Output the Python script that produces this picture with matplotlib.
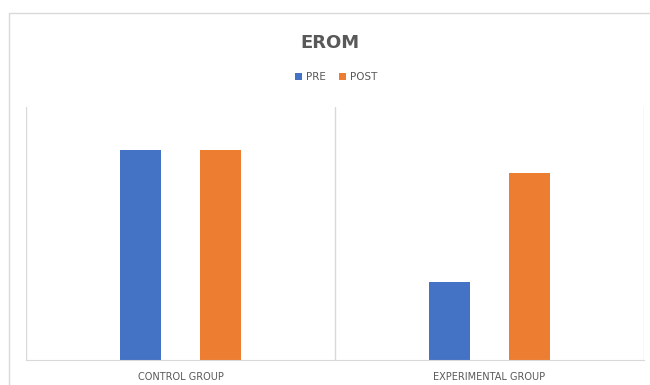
import numpy as np
import matplotlib.pyplot as plt
from matplotlib.patches import Rectangle

groups = ['CONTROL GROUP', 'EXPERIMENTAL GROUP']
pre = [83, 31]
post = [83, 74]

blue = '#4472C4'
orange = '#ED7D31'
grid = '#D9D9D9'
text_col = '#595959'

fig = plt.figure(figsize=(6.5, 3.85), dpi=100)
ax = fig.add_axes([26/650, 1 - 360/385, (644 - 26)/650, (360 - 107)/385])

x = np.arange(len(groups))
w = 0.133
off = 0.129
ax.bar(x - off, pre, w, color=blue, label='PRE')
ax.bar(x + off, post, w, color=orange, label='POST')

ax.set_xlim(-0.5, 1.5)
ax.set_ylim(0, 100)
for xv in [-0.5, 0.5, 1.5]:
    ax.axvline(xv, color=grid, lw=1, zorder=0)
for s in ['top', 'left', 'right']:
    ax.spines[s].set_visible(False)
ax.spines['bottom'].set_color(grid)
ax.set_yticks([])
ax.set_xticks(x)
ax.set_xticklabels(groups, fontsize=7, color=text_col)
ax.tick_params(axis='x', length=0, pad=9)

# outer chart border
fig.patches.append(Rectangle((9/650, -0.05), 1, 1 - 13/385 + 0.05,
                             transform=fig.transFigure, fill=False,
                             edgecolor=grid, lw=1))

fig.text(330/650, 1 - 43/385, 'EROM', ha='center', va='center',
         fontsize=13, fontweight='bold', color=text_col)
fig.legend(loc='center', bbox_to_anchor=(336/650, 1 - 77/385), ncol=2,
           frameon=False, fontsize=7.5, handlelength=0.7, handleheight=0.7,
           handletextpad=0.4, columnspacing=1.2, labelcolor=text_col)

fig.savefig('out.png', dpi=100)
